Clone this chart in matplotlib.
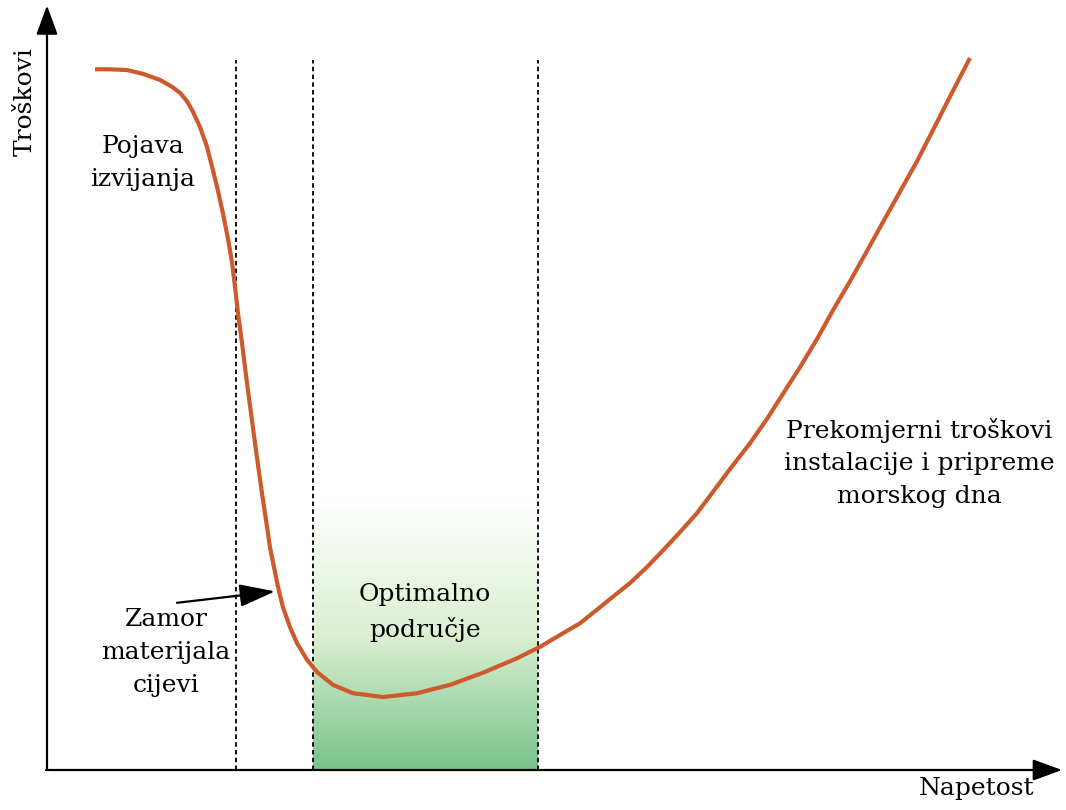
import numpy as np
import matplotlib
matplotlib.use("Agg")
import matplotlib.pyplot as plt
from matplotlib.colors import LinearSegmentedColormap

# Cost curve (Napetost 0-100, Troškovi 0-100)
napetost = [4.8, 6.3, 8.0, 9.6, 11.3, 12.5, 13.3, 14.0, 14.6, 15.3, 16.0, 16.6,
            17.1, 17.6, 18.1, 18.5, 18.8, 19.1, 19.5, 19.8, 20.1, 20.6, 21.0, 21.5,
            21.9, 22.3, 22.7, 23.1, 23.6, 24.3, 25.0, 26.0, 27.0, 28.6, 30.6, 33.6,
            37.0, 40.3, 43.6, 47.0, 49.3, 51.6, 53.3, 55.0, 56.6, 58.3, 60.0, 61.6,
            63.3, 65.0, 66.6, 68.3, 70.3, 72.0, 73.6, 75.3, 77.0, 78.6, 80.3, 82.0,
            83.6, 85.3, 87.0, 88.6, 90.3, 92.3]
troskovi = [92.2, 92.2, 92.1, 91.6, 90.8, 89.9, 89.1, 88.0, 86.6, 84.6, 82.0, 78.9,
            76.2, 73.2, 69.9, 66.8, 63.6, 60.1, 56.2, 53.0, 49.9, 45.0, 41.1, 36.4,
            32.9, 29.3, 26.7, 24.1, 21.4, 18.8, 16.7, 14.5, 12.9, 11.2, 10.1, 9.6,
            10.1, 11.2, 12.8, 14.7, 16.2, 18.0, 19.3, 21.1, 22.8, 24.6, 26.7, 28.9,
            31.3, 33.8, 36.6, 39.6, 43.0, 46.2, 49.5, 53.0, 56.7, 60.5, 64.3, 68.3,
            72.1, 76.1, 80.1, 84.2, 88.6, 93.7]

# Region boundaries (dashed lines)
granice = [18.9, 26.6, 49.1]
optimum = (26.6, 49.1)
optimum_vrh = 35.5
granice_vrh = 93.4

labels = {
    "ylabel": "Troškovi",
    "xlabel": "Napetost",
    "izvijanje": "Pojava\nizvijanja",
    "zamor": "Zamor\nmaterijala\ncijevi",
    "optimum": "Optimalno\npodručje",
    "prekomjerni": "Prekomjerni troškovi\ninstalacije i pripreme\nmorskog dna",
}

plt.rcParams['font.family'] = ['DejaVu Serif']

fig = plt.figure(figsize=(10.66, 8.10), dpi=100)
ax = fig.add_axes([0, 0, 1, 1])
ax.set_xlim(-4.7, 101.9)
ax.set_ylim(-5.263, 101.316)
ax.axis('off')

# Green gradient optimal region
cmap = LinearSegmentedColormap.from_list("g", [(1, 1, 1), (0.86, 0.94, 0.82), (0.47, 0.76, 0.54)])
grad = np.linspace(0, 1, 256).reshape(-1, 1)
ax.imshow(grad, cmap=cmap, aspect='auto', origin='upper',
          extent=[optimum[0], optimum[1], 0, optimum_vrh], zorder=1)

# Dashed boundaries
for g in granice:
    ax.plot([g, g], [0, granice_vrh], color='black', lw=1.3,
            linestyle=(0, (2.5, 1.8)), zorder=2)

# Curve
ax.plot(napetost, troskovi, color='#CD5A2C', lw=3.0, solid_joinstyle='round',
        solid_capstyle='butt', zorder=4)

# Axes arrows
arrow_style = '-|>,head_length=0.9,head_width=0.33'
ax.annotate('', xy=(0, 100.6), xytext=(0, 0),
            arrowprops=dict(arrowstyle=arrow_style, color='black', lw=1.6,
                            shrinkA=0, shrinkB=0, mutation_scale=20), zorder=5)
ax.annotate('', xy=(101.5, 0), xytext=(-0.1, 0),
            arrowprops=dict(arrowstyle=arrow_style, color='black', lw=1.6,
                            shrinkA=0, shrinkB=0, mutation_scale=20), zorder=5)

fs = 18
ls = 1.55
ax.text(-2.2, 87.9, labels["ylabel"], rotation=90, ha='center', va='center', fontsize=fs)
ax.text(93.0, -2.4, labels["xlabel"], ha='center', va='center', fontsize=fs)
ax.text(9.6, 79.9, labels["izvijanje"], ha='center', va='center', fontsize=fs, linespacing=ls)
ax.text(11.9, 15.5, labels["zamor"], ha='center', va='center', fontsize=fs, linespacing=ls)
ax.text(37.8, 20.7, labels["optimum"], ha='center', va='center', fontsize=fs, linespacing=ls)
ax.text(87.2, 40.4, labels["prekomjerni"], ha='center', va='center', fontsize=fs, linespacing=ls)

# Arrow to the fatigue region
ax.annotate('', xy=(22.8, 23.5), xytext=(13.0, 22.0),
            arrowprops=dict(arrowstyle='-|>,head_length=1.1,head_width=0.35',
                            color='black', lw=1.6, shrinkA=0, shrinkB=0,
                            mutation_scale=20), zorder=5)

fig.savefig('out.png', dpi=100)
